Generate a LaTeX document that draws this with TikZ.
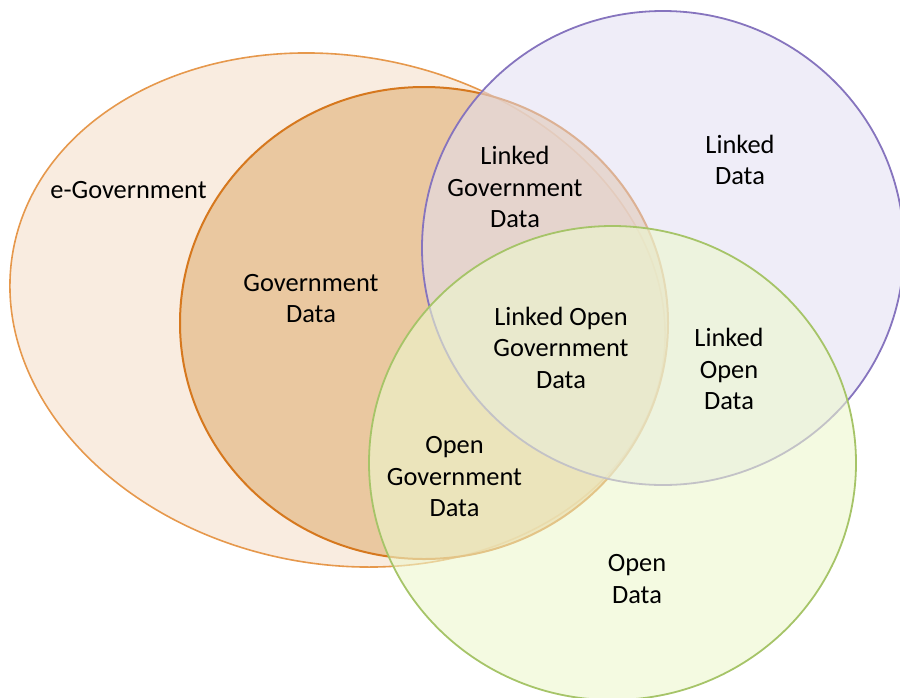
\documentclass[tikz,border=0pt]{standalone}
\usepackage{fontspec}
\setmainfont{Carlito}
\definecolor{egovFill}{RGB}{249,236,224}
\definecolor{egovLine}{RGB}{230,152,76}
\definecolor{govFill}{RGB}{230,189,139}
\definecolor{govLine}{RGB}{214,120,30}
\definecolor{linkFill}{RGB}{226,223,242}
\definecolor{linkLine}{RGB}{134,116,190}
\definecolor{openFill}{RGB}{236,247,205}
\definecolor{openLine}{RGB}{166,196,104}
\begin{document}
\begin{tikzpicture}[x=1pt,y=-1pt,
  lbl/.style={align=center, inner sep=0pt, text=black,
    font=\fontsize{26.4}{31.5}\selectfont},
  egovset/.style={fill=egovFill, draw=egovLine, line width=1.6pt},
  govset/.style={fill=govFill, fill opacity=0.75, draw=govLine, line width=2pt},
  linkset/.style={fill=linkFill, fill opacity=0.56, draw=linkLine, line width=1.8pt},
  openset/.style={fill=openFill, fill opacity=0.6, draw=openLine, line width=1.8pt}]
\useasboundingbox (0,0) rectangle (900,697);
\clip (0,0) rectangle (900,697);

% the four sets, back to front
\begin{scope}[shift={(337.5,310)}, rotate=-10.55]
  \path[egovset] (0,0) ellipse [x radius=329.8, y radius=254.1];
\end{scope}
\path[govset] (424,323) ellipse [x radius=244, y radius=236];
\path[linkset] (663,248) ellipse [x radius=241, y radius=237];
\path[openset] (612.5,463) ellipse [x radius=243.5, y radius=237];

% labels of the regions
\node[lbl] (egov)  at (128.5,190)   {e-Government};
\node[lbl] (gov)   at (311,298.5)   {Government\\Data};
\node[lbl] (lgd)   at (515,187)     {Linked\\Government\\Data};
\node[lbl] (ld)    at (740,160)     {Linked\\Data};
\node[lbl] (logd)  at (561,347.5)   {Linked Open\\Government\\Data};
\node[lbl] (lod)   at (729,369)     {Linked\\Open\\Data};
\node[lbl] (ogd)   at (454.5,477)   {Open\\Government\\Data};
\node[lbl] (od)    at (637,579)     {Open\\Data};
\end{tikzpicture}
\end{document}
